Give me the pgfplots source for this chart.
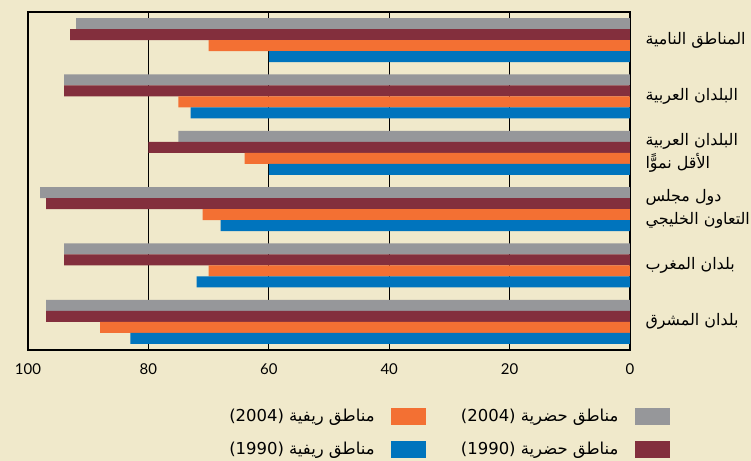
\documentclass[border=0pt]{standalone}
\usepackage{fontspec}
\usepackage{pgfplots}
\pgfplotsset{compat=1.18}
\usepackage{pgfplotstable}
\setmainfont{Lato}
\newfontfamily\arabicfont[Script=Arabic]{DejaVu Sans}
\TeXXeTstate=1
\definecolor{bg}{RGB}{240,233,203}
\definecolor{cgrey}{RGB}{150,151,154}
\definecolor{cmaroon}{RGB}{131,47,61}
\definecolor{corange}{RGB}{243,112,51}
\definecolor{cblue}{RGB}{0,116,189}

\pgfplotstableread{
y grey maroon orange blue
5 92 93 70 60
4 94 94 75 73
3 75 80 64 60
2 98 97 71 68
1 94 94 70 72
0 97 97 88 83
}\datatable

\begin{document}
\begin{tikzpicture}
\fill[bg] (0,0) rectangle (751bp,461bp);
\begin{axis}[
 at={(28bp,111bp)}, anchor=south west,
 scale only axis, width=602bp, height=338bp,
 xbar, bar width=11bp,
 x dir=reverse, xmin=0, xmax=100,
 ymin=-0.5, ymax=5.5,
 xtick={0,20,40,60,80,100},
 xmajorgrids, grid style={black, line width=0.8bp},
 major tick length=0pt,
 ytick={0,...,5},
 yticklabels={{\arabicfont\beginR بلدان المشرق\endR}, {\arabicfont\beginR بلدان المغرب\endR}, {\arabicfont\beginR دول مجلس\endR\\\arabicfont\beginR التعاون الخليجي\endR}, {\arabicfont\beginR البلدان العربية\endR\\\arabicfont\beginR الأقل نموًّا\endR}, {\arabicfont\beginR البلدان العربية\endR}, {\arabicfont\beginR المناطق النامية\endR}},
 yticklabel pos=right,
 yticklabel style={anchor=west, align=left, font=\fontsize{16}{23}\selectfont, xshift=12bp},
 xticklabel style={font=\fontsize{15}{17}\selectfont, yshift=-10bp},
 /pgf/number format/assume math mode=true,
 axis line style={black, line width=1.2bp},
 legend columns=2, legend plot pos=right, legend cell align=right,
 legend style={at={(axis description cs:1.065,-0.168)}, anchor=north east, draw=none, fill=none, inner sep=0pt,
   font=\fontsize{16.5}{18}\selectfont, row sep=15bp,
   /tikz/every odd column/.append style={column sep=14bp},
   /tikz/every even column/.append style={column sep=34bp}},
]
\addplot[xbar, fill=cgrey, draw=none, bar shift=16.5bp, forget plot] table[x=grey, y=y]{\datatable};
\addplot[xbar, fill=cmaroon, draw=none, bar shift=5.5bp, forget plot] table[x=maroon, y=y]{\datatable};
\addplot[xbar, fill=corange, draw=none, bar shift=-5.5bp, forget plot] table[x=orange, y=y]{\datatable};
\addplot[xbar, fill=cblue, draw=none, bar shift=-16.5bp, forget plot] table[x=blue, y=y]{\datatable};
\addlegendimage{legend image code/.code={\fill[corange] (0bp,-8bp) rectangle (34bp,8bp);}}
\addlegendentry{{\arabicfont (2004) \beginR مناطق ريفية\endR}}
\addlegendimage{legend image code/.code={\fill[cgrey] (0bp,-8bp) rectangle (34bp,8bp);}}
\addlegendentry{{\arabicfont (2004) \beginR مناطق حضرية\endR}}
\addlegendimage{legend image code/.code={\fill[cblue] (0bp,-8bp) rectangle (34bp,8bp);}}
\addlegendentry{{\arabicfont (1990) \beginR مناطق ريفية\endR}}
\addlegendimage{legend image code/.code={\fill[cmaroon] (0bp,-8bp) rectangle (34bp,8bp);}}
\addlegendentry{{\arabicfont (1990) \beginR مناطق حضرية\endR}}
\end{axis}
\pgfresetboundingbox
\useasboundingbox (0,0) rectangle (751bp,461bp);
\end{tikzpicture}
\end{document}
